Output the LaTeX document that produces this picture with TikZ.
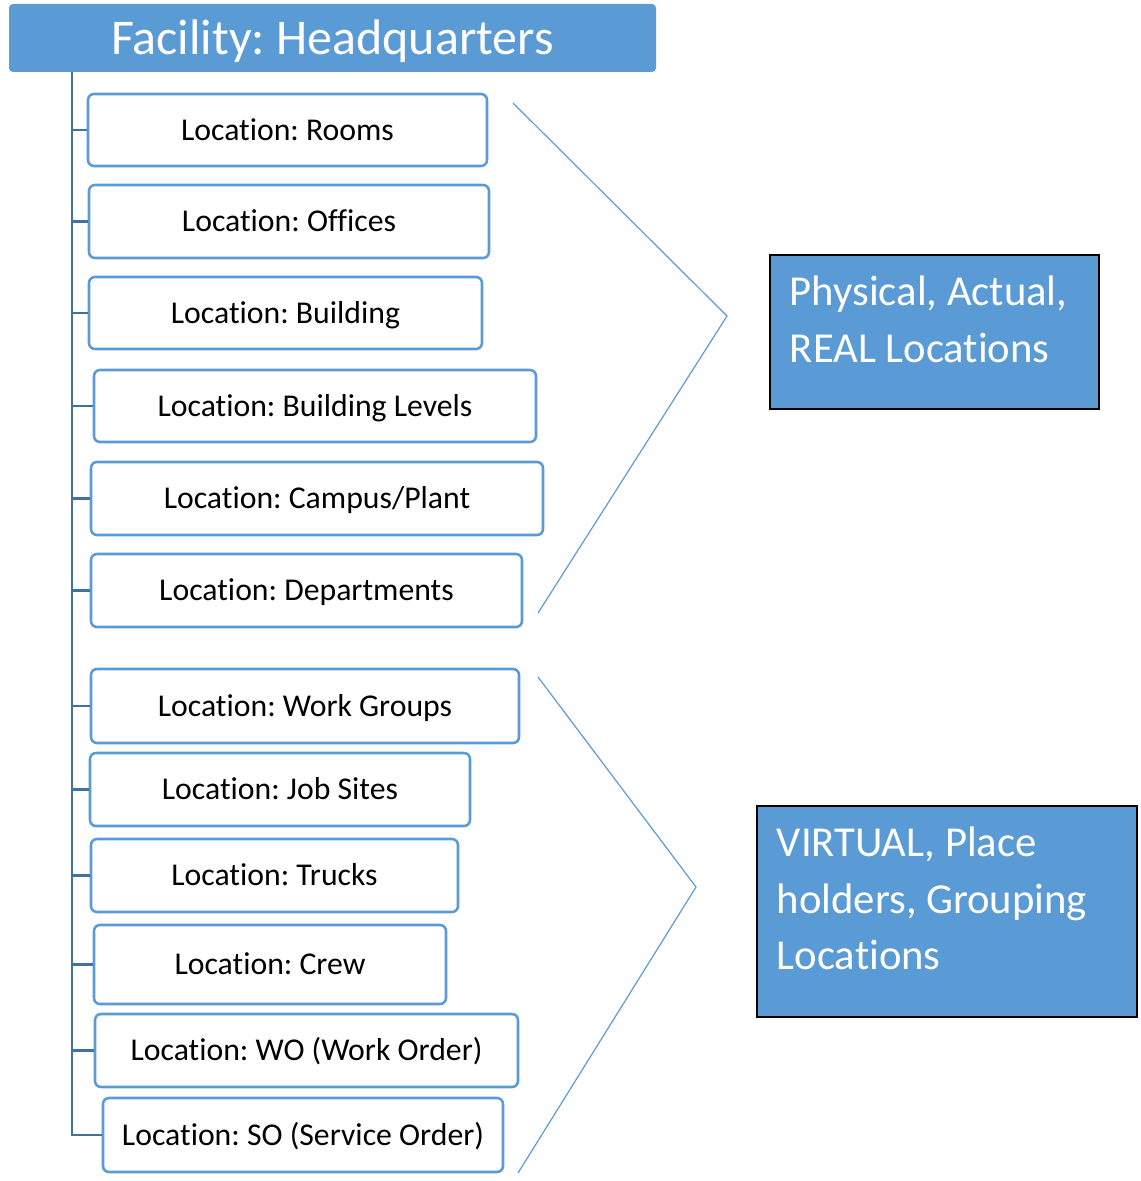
\documentclass[tikz,border=0pt]{standalone}
\usepackage{fontspec}
\setmainfont[Ligatures=NoCommon]{Carlito}
\frenchspacing
\usetikzlibrary{fit}
\definecolor{hqblue}{RGB}{91,155,213}
\definecolor{trunkblue}{RGB}{65,113,156}
\tikzstyle{head} = [rectangle, rounded corners=3pt, fill=hqblue, text=white, inner sep=0pt, font=\fontsize{37.5}{45}\selectfont, text height=28.1pt, text depth=4pt]
\tikzstyle{loc} = [rectangle, rounded corners=4.5pt, draw=hqblue, line width=1.9pt, fill=white, inner sep=0pt, font=\fontsize{23.8}{28}\selectfont, text height=17.85pt, text depth=2.5pt]
\tikzstyle{group} = [rectangle, draw=black, line width=1.6pt, fill=hqblue, inner sep=0pt]
\tikzstyle{grouptext} = [anchor=north west, text=white, align=left, inner xsep=15.5pt, inner ysep=16.5pt, font=\fontsize{32}{42.4}\selectfont]
\tikzstyle{trunk} = [draw=trunkblue, line width=2.2pt]
\tikzstyle{brace} = [draw=hqblue, line width=0.9pt]

\begin{document}
\begin{tikzpicture}[x=0.75pt,y=-0.75pt]
\useasboundingbox (0,0) rectangle (1141,1181);

\node (hq) [head, minimum width=485.25pt, minimum height=51pt] at (332.5,38) {Facility: Headquarters};

\node (rooms) [loc, minimum width=299.25pt, minimum height=54pt] at (287.5,130) {Location: Rooms};
\node (offices) [loc, minimum width=300pt, minimum height=54.75pt] at (289,221.5) {Location: Offices};
\node (building) [loc, minimum width=294.75pt, minimum height=54pt] at (285.5,313) {Location: Building};
\node (levels) [loc, minimum width=331.5pt, minimum height=54pt] at (315,406) {Location: Building Levels};
\node (campus) [loc, minimum width=339pt, minimum height=54.75pt] at (317,498.5) {Location: Campus/Plant};
\node (depts) [loc, minimum width=323.25pt, minimum height=54.75pt] at (306.5,590.5) {Location: Departments};
\node (groups) [loc, minimum width=321pt, minimum height=55.5pt] at (305,706) {Location: Work Groups};
\node (sites) [loc, minimum width=285pt, minimum height=54.75pt] at (280,789.5) {Location: Job Sites};
\node (trucks) [loc, minimum width=275.25pt, minimum height=54.75pt] at (274.5,875.5) {Location: Trucks};
\node (crew) [loc, minimum width=264pt, minimum height=59.25pt] at (270,964.5) {Location: Crew};
\node (wo) [loc, minimum width=317.25pt, minimum height=54.75pt] at (306.5,1050.5) {Location: WO (Work Order)};
\node (so) [loc, minimum width=300pt, minimum height=55.5pt] at (303,1135) {Location: SO (Service Order)};

\node (real) [group, fit={(770,255)(1099,409)}] {};
\node (realtext) [grouptext] at (real.north west) {Physical, Actual,\\REAL Locations};
\node (virtual) [group, fit={(757,806)(1137,1017)}] {};
\node (virtualtext) [grouptext] at (virtual.north west) {VIRTUAL, Place\\holders, Grouping\\Locations};

\coordinate (top) at (72,72);
\draw [trunk] (top) |- (so.west);
\draw [trunk] (top |- rooms.west) -- (rooms.west);
\draw [trunk] (top |- offices.west) -- (offices.west);
\draw [trunk] (top |- building.west) -- (building.west);
\draw [trunk] (top |- levels.west) -- (levels.west);
\draw [trunk] (top |- campus.west) -- (campus.west);
\draw [trunk] (top |- depts.west) -- (depts.west);
\draw [trunk] (top |- groups.west) -- (groups.west);
\draw [trunk] (top |- sites.west) -- (sites.west);
\draw [trunk] (top |- trucks.west) -- (trucks.west);
\draw [trunk] (top |- crew.west) -- (crew.west);
\draw [trunk] (top |- wo.west) -- (wo.west);

\coordinate (r1) at (513,103);
\coordinate (r2) at (727,316);
\coordinate (r3) at (538,613);
\coordinate (v1) at (538,677);
\coordinate (v2) at (696,887);
\coordinate (v3) at (518,1173);
\draw [brace] (r1) -- (r2) -- (r3);
\draw [brace] (v1) -- (v2) -- (v3);

\end{tikzpicture}
\end{document}
